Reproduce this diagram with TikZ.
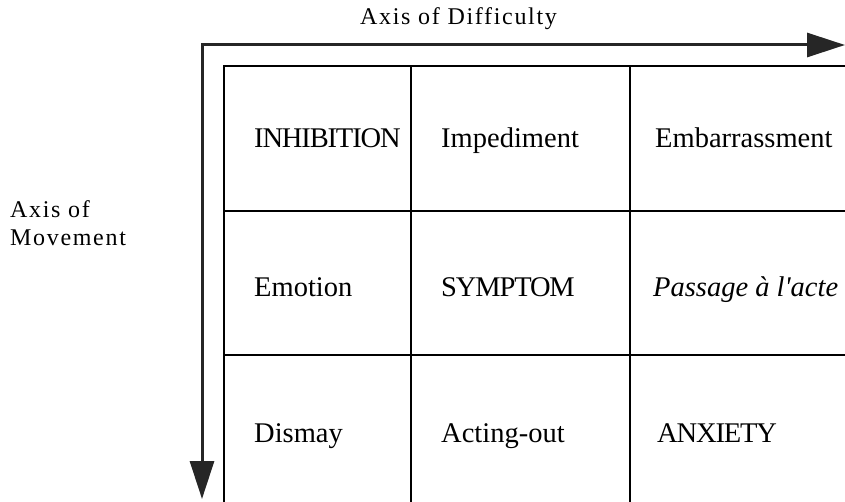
\documentclass[tikz,border=0pt]{standalone}
\usepackage{fontspec}
\setmainfont{Liberation Serif}
\usetikzlibrary{arrows.meta}

\tikzset{
  cell/.style={anchor=base west, font=\fontsize{28.5}{34}\selectfont},
  capcell/.style={cell, font=\fontsize{28.5}{34}\selectfont\addfontfeatures{LetterSpace=-4}},
  axislabel/.style={anchor=base west, font=\fontsize{24}{28}\selectfont\addfontfeatures{LetterSpace=7}},
  axis/.style={line width=3pt, black!85, {Triangle[length=38pt,width=24pt]}-{Triangle[length=38pt,width=24pt]}},
  grid/.style={line width=1.6pt, black}
}

\begin{document}
\begin{tikzpicture}[x=1pt,y=-1pt]
    \tikzstyle{every node}+=[inner sep=0pt]
    \useasboundingbox (0,0) rectangle (845,502);
    % axes
    \coordinate (corner) at (202,45);
    \coordinate (difftip) at (845,45);
    \coordinate (movetip) at (202,499);
    \draw [axis] (difftip) -- (corner) -- (movetip);
    \node [axislabel] (difficulty) at (360,25) {Axis of Difficulty};
    \node [axislabel] (movement) at (10,218) {Axis of};
    \node [axislabel] (movement2) at (10,246) {Movement};
    % grid
    \draw [grid] (224,502) -- (224,66) -- (845,66);
    \draw [grid] (411,66) -- (411,502);
    \draw [grid] (630,66) -- (630,502);
    \draw [grid] (224,211) -- (845,211);
    \draw [grid] (224,355) -- (845,355);
    % first row
    \node [capcell] (inhibition) at (254,148) {INHIBITION};
    \node [cell] (impediment) at (441,148) {Impediment};
    \node [cell] (embarrassment) at (655,148) {Embarrassment};
    % second row
    \node [cell] (emotion) at (254,297) {Emotion};
    \node [capcell] (symptom) at (441,297) {SYMPTOM};
    \node [cell] (passage) at (653,297) {\itshape Passage à l\textquotesingle acte};
    % third row
    \node [cell] (dismay) at (254,442) {Dismay};
    \node [cell] (actingout) at (441,442) {Acting-out};
    \node [capcell] (anxiety) at (657,442) {ANXIETY};
\end{tikzpicture}
\end{document}
